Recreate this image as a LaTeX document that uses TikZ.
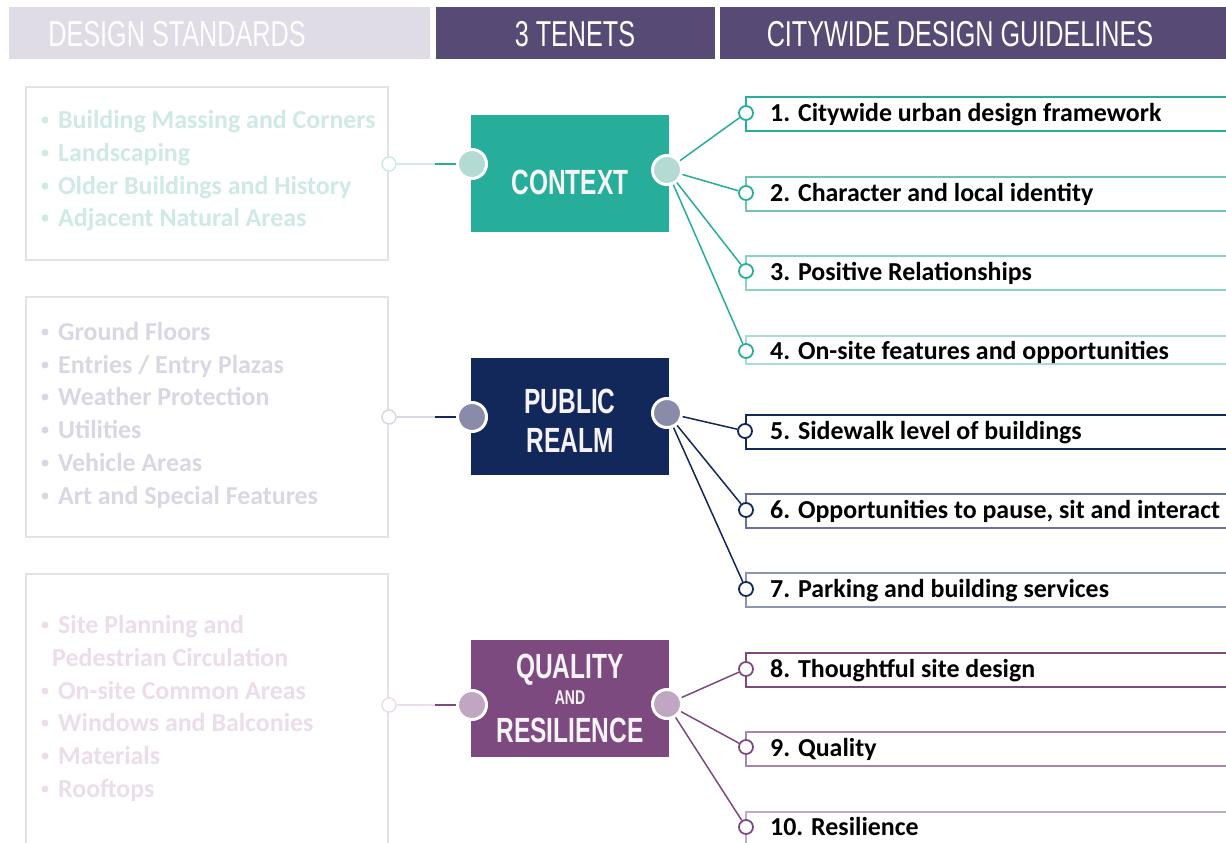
\documentclass[tikz,border=0pt]{standalone}
\usepackage{fontspec}
\setmainfont{Carlito}
\newfontfamily\condfont[FakeStretch=0.7]{Liberation Sans}
\definecolor{hdrlight}{HTML}{DFDCE5}
\definecolor{hdrdark}{HTML}{574A75}
\definecolor{boxgray}{HTML}{E3E3E3}
\definecolor{ctx}{HTML}{26AE9B}
\definecolor{ctxc}{HTML}{B3DAD3}
\definecolor{ctxl}{HTML}{CFE9E4}
\definecolor{ctxb}{HTML}{6EC4B6}
\definecolor{ctxbb}{HTML}{8DD0C5}
\definecolor{ctxbbb}{HTML}{A9DCD3}
\definecolor{pub}{HTML}{12275A}
\definecolor{pubc}{HTML}{8A8BA9}
\definecolor{publ}{HTML}{D7D8E3}
\definecolor{pubb}{HTML}{6B729A}
\definecolor{pubbb}{HTML}{8E93B3}
\definecolor{qua}{HTML}{7D4A7F}
\definecolor{quac}{HTML}{C0A6C2}
\definecolor{qual}{HTML}{EBDDEA}
\definecolor{quab}{HTML}{A886A9}
\definecolor{quabb}{HTML}{C4A9C5}
\definecolor{tenetwhite}{HTML}{F6F3F7}
\tikzset{
  lbox/.style={draw=boxgray, line width=1.8pt},
  ltext/.style={font=\fontsize{25.9}{30}\selectfont\bfseries, anchor=base west, inner sep=0pt},
  bul/.style={circle, inner sep=0pt, minimum size=7pt},
  tbox/.style={inner sep=0pt, minimum width=198pt, minimum height=117pt},
  tenet/.style={font=\condfont\bfseries\fontsize{35}{37}\selectfont, text=tenetwhite, inner sep=0pt, anchor=base},
  tcirc/.style={circle, draw=white, line width=3pt, minimum size=29pt, inner sep=0pt},
  gcirc/.style={circle, fill=white, line width=1.8pt, minimum size=14pt, inner sep=0pt},
  scirc/.style={circle, fill=white, line width=1.5pt, minimum size=14pt, inner sep=0pt},
  gbox/.style={line width=1.8pt},
  gtext/.style={font=\fontsize{25.9}{30}\selectfont\bfseries, anchor=base west, inner sep=0pt, text=black},
  htext/.style={font=\condfont\fontsize{36}{40}\selectfont, text=white, anchor=base, inner sep=0pt},
  conn/.style={line width=1.5pt},
}
\begin{document}
\begin{tikzpicture}[x=1pt,y=-1pt]
\useasboundingbox (0,0) rectangle (1226,843);
\clip (0,0) rectangle (1226,843);
\fill[white] (0,0) rectangle (1226,843);
% headers
\fill[hdrlight] (9,7) rectangle (430,59);
\fill[hdrdark] (436,7) rectangle (715,59);
\fill[hdrdark] (720,7) rectangle (1240,59);
\node[htext] (h1) at (177,47) {DESIGN STANDARDS};
\node[htext] (h2) at (575,47) {3 TENETS};
\node[htext] (h3) at (960,47) {CITYWIDE DESIGN GUIDELINES};
% left boxes
\draw[lbox] (26,87) rectangle (388,260);
\draw[lbox] (26,297) rectangle (388,537);
\draw[lbox] (26,574) rectangle (388,860);
% left texts
\foreach \y/\t [count=\i] in {128/{Building Massing and Corners},161/{Landscaping},194/{Older Buildings and History},226/{Adjacent Natural Areas}}{
  \node[bul, fill=ctxl] (b1\i) at (45,\y-8) {};
  \node[ltext, text=ctxl] (l1\i) at (58,\y) {\t};
}
\foreach \y/\t [count=\i] in {340/{Ground Floors},373/{Entries {/} Entry Plazas},405/{Weather Protection},438/{Utilities},471/{Vehicle Areas},504/{Art and Special Features}}{
  \node[bul, fill=publ] (b2\i) at (45,\y-8) {};
  \node[ltext, text=publ] (l2\i) at (58,\y) {\t};
}
\foreach \y/\t [count=\i] in {633/{Site Planning and},699/{On-site Common Areas},731/{Windows and Balconies},764/{Materials},797/{Rooftops}}{
  \node[bul, fill=qual] (b3\i) at (45,\y-8) {};
  \node[ltext, text=qual] (l3\i) at (58,\y) {\t};
}
\node[ltext, text=qual] (l3x) at (52,666) {Pedestrian Circulation};
% tenet boxes
\node[tbox, fill=ctx] (T1) at (569.5,173.5) {};
\node[tbox, fill=pub] (T2) at (569.5,416) {};
\node[tbox, fill=qua] (T3) at (569.5,698) {};
\node[tenet] (t1) at (570,194) {CONTEXT};
\node[tenet] (t2a) at (570,413) {PUBLIC};
\node[tenet] (t2b) at (570,452) {REALM};
\node[tenet] (t3a) at (570,678) {QUALITY};
\node[tenet, font=\condfont\bfseries\fontsize{20}{22}\selectfont] (t3b) at (570,704) {AND};
\node[tenet] (t3c) at (570,742) {RESILIENCE};
% tenet circles
\node[tcirc, fill=ctxc] (L1) at (472,164) {};
\node[tcirc, fill=ctxc] (R1) at (667,170) {};
\node[tcirc, fill=pubc] (L2) at (472,417) {};
\node[tcirc, fill=pubc] (R2) at (667,413) {};
\node[tcirc, fill=quac] (L3) at (472,705) {};
\node[tcirc, fill=quac] (R3) at (667,704) {};
% left small circles and connectors
\node[scirc, draw=ctxl] (S1) at (389,164) {};
\node[scirc, draw=publ] (S2) at (389,417) {};
\node[scirc, draw=qual] (S3) at (389,705) {};
\coordinate (k1) at (435,164);
\coordinate (k2) at (435,417);
\coordinate (k3) at (435,705);
\draw[conn, ctxl] (S1) -- (k1);
\draw[conn, ctx] (k1) -- (L1);
\draw[conn, publ] (S2) -- (k2);
\draw[conn, pub] (k2) -- (L2);
\draw[conn, qual] (S3) -- (k3);
\draw[conn, qua] (k3) -- (L3);
% guideline boxes
\draw[gbox, ctx] (746,97) rectangle (1240,131);
\draw[gbox, ctxb] (746,177) rectangle (1240,211);
\draw[gbox, ctxbb] (746,256) rectangle (1240,290);
\draw[gbox, ctxbbb] (746,336) rectangle (1240,364);
\draw[gbox, pub] (746,415) rectangle (1240,449);
\draw[gbox, pubb] (746,494) rectangle (1240,528);
\draw[gbox, pubbb] (746,573) rectangle (1240,607);
\draw[gbox, qua] (746,653) rectangle (1240,687);
\draw[gbox, quab] (746,732) rectangle (1240,766);
\draw[gbox, quabb] (746,812) rectangle (1240,860);
% guideline texts
\node[gtext] (g1t) at (770,121) {1. Citywide urban design framework};
\node[gtext] (g2t) at (770,201) {2. Character and local identity};
\node[gtext] (g3t) at (770,280) {3. Positive Relationships};
\node[gtext] (g4t) at (770,359) {4. On-site features and opportunities};
\node[gtext] (g5t) at (770,439) {5. Sidewalk level of buildings};
\node[gtext] (g6t) at (770,518) {6. Opportunities to pause, sit and interact};
\node[gtext] (g7t) at (770,597) {7. Parking and building services};
\node[gtext] (g8t) at (770,677) {8. Thoughtful site design};
\node[gtext] (g9t) at (770,756) {9. Quality};
\node[gtext] (g10t) at (770,835) {10. Resilience};
% guideline circles
\node[gcirc, draw=ctx] (G1) at (746,113) {};
\node[gcirc, draw=ctx] (G2) at (746,193) {};
\node[gcirc, draw=ctx] (G3) at (746,271) {};
\node[gcirc, draw=ctx] (G4) at (746,351) {};
\node[gcirc, draw=pub] (G5) at (745,431) {};
\node[gcirc, draw=pub] (G6) at (746,510) {};
\node[gcirc, draw=pub] (G7) at (746,589) {};
\node[gcirc, draw=qua] (G8) at (746,669) {};
\node[gcirc, draw=qua] (G9) at (746,747) {};
\node[gcirc, draw=qua] (G10) at (746,827) {};
% connectors
\foreach \g in {1,2,3,4}{\draw[conn, ctx] (R1) -- (G\g);}
\foreach \g in {5,6,7}{\draw[conn, pub] (R2) -- (G\g);}
\foreach \g in {8,9,10}{\draw[conn, qua] (R3) -- (G\g);}
\end{tikzpicture}
\end{document}
